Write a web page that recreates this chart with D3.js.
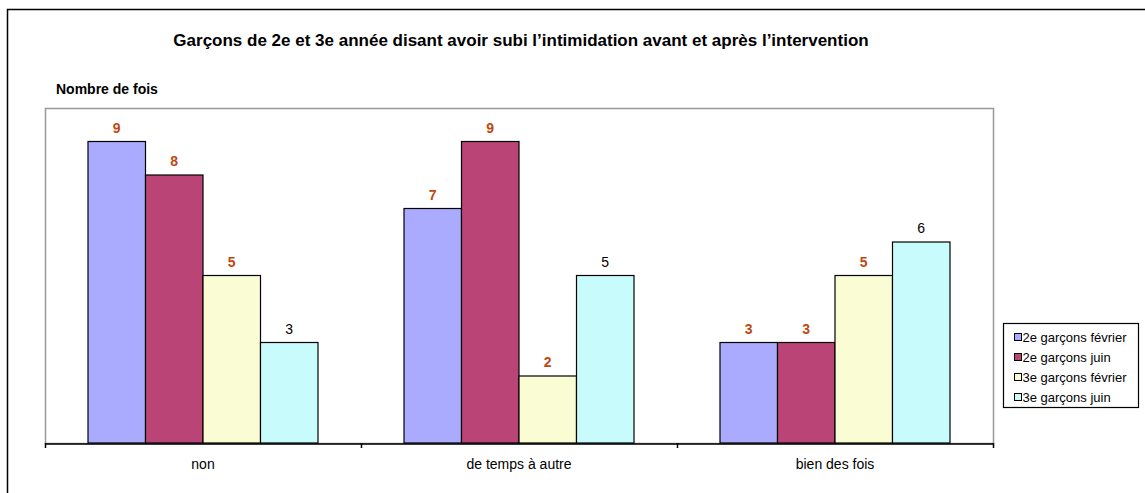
<!DOCTYPE html>
<html>
<head>
<meta charset="utf-8">
<script src="https://cdn.jsdelivr.net/npm/d3@7"></script>
<style>
  body { margin: 0; background: #fff; }
  svg text { font-family: "Liberation Sans", Arial, sans-serif; }
</style>
</head>
<body>
<svg id="chart" width="1145" height="493"></svg>
<script>
// data
const categories = ['non', 'de temps à autre', 'bien des fois'];
const seriesNames = ['2e garçons février', '2e garçons juin', '3e garçons février', '3e garçons juin'];
const feb2 = [9, 7, 3];
const jun2 = [8, 9, 3];
const feb3 = [5, 2, 5];
const jun3 = [3, 5, 6];
const yTicks = [0, 2, 4, 6, 8, 10];

const seriesValues = [feb2, jun2, feb3, jun3];
const colors = ['#aaaaff', '#bb4477', '#fafcd4', '#c8fcfc'];
const labelStyle = [true, true, true, false]; // bold orange vs plain black

const svg = d3.select('#chart');

// outer frame
svg.append('rect')
  .attr('x', 7.5).attr('y', 9.5)
  .attr('width', 1150).attr('height', 500)
  .attr('fill', 'none').attr('stroke', '#000').attr('stroke-width', 1.5);

const plot = { left: 45, top: 108, right: 993, bottom: 443 };

const x0 = d3.scaleBand().domain(categories).range([plot.left, plot.right]).paddingInner(0).paddingOuter(0);
const x1 = d3.scaleBand().domain(d3.range(seriesNames.length)).range([43, x0.bandwidth() - 43]);
const y = d3.scaleLinear().domain([0, d3.max(yTicks)]).range([plot.bottom, plot.top]);

// plot area border
svg.append('rect')
  .attr('x', plot.left + 0.5).attr('y', plot.top + 0.5)
  .attr('width', plot.right - plot.left).attr('height', plot.bottom - plot.top)
  .attr('fill', '#fff').attr('stroke', '#999').attr('stroke-width', 1.5);

// bars
const groups = svg.append('g').selectAll('g')
  .data(categories)
  .join('g')
  .attr('transform', d => `translate(${x0(d)},0)`);

groups.selectAll('rect')
  .data((c, ci) => seriesValues.map((vals, si) => ({ si, v: vals[ci] })))
  .join('rect')
  .attr('x', d => x1(d.si))
  .attr('y', d => y(d.v))
  .attr('width', x1.bandwidth())
  .attr('height', d => y(0) - y(d.v))
  .attr('fill', d => colors[d.si])
  .attr('stroke', '#000')
  .attr('stroke-width', 1.2);

groups.selectAll('text')
  .data((c, ci) => seriesValues.map((vals, si) => ({ si, v: vals[ci] })))
  .join('text')
  .attr('x', d => x1(d.si) + x1.bandwidth() / 2)
  .attr('y', d => y(d.v) - 9)
  .attr('text-anchor', 'middle')
  .style('font-size', '14px')
  .style('font-weight', d => labelStyle[d.si] ? 'bold' : 'normal')
  .style('fill', d => labelStyle[d.si] ? '#c04810' : '#000')
  .text(d => d.v);

// x axis
const xAxis = svg.append('g')
  .attr('transform', `translate(0,${plot.bottom + 0.5})`)
  .call(d3.axisBottom(x0).tickSize(0).tickSizeOuter(0).tickPadding(16));
xAxis.select('.domain').attr('stroke', '#000').attr('stroke-width', 1.5);
xAxis.selectAll('text').style('font-size', '14px').style('font-family', '"Liberation Sans", Arial, sans-serif').attr('fill', '#000');

// category separator ticks
svg.append('g').selectAll('line')
  .data(d3.range(categories.length + 1))
  .join('line')
  .attr('x1', i => i < categories.length ? x0(categories[i]) + 0.5 : plot.right + 0.5)
  .attr('x2', i => i < categories.length ? x0(categories[i]) + 0.5 : plot.right + 0.5)
  .attr('y1', plot.bottom)
  .attr('y2', plot.bottom + 5)
  .attr('stroke', '#000').attr('stroke-width', 1.5);

// title
svg.append('text')
  .attr('x', 521).attr('y', 46)
  .attr('text-anchor', 'middle')
  .style('font-size', '17px').style('font-weight', 'bold')
  .text('Garçons de 2e et 3e année disant avoir subi l’intimidation avant et après l’intervention');

svg.append('text')
  .attr('x', 56).attr('y', 94)
  .style('font-size', '14px').style('font-weight', 'bold')
  .text('Nombre de fois');

// legend
const legend = svg.append('g').attr('transform', 'translate(1003.5,323.5)');
legend.append('rect')
  .attr('width', 135).attr('height', 84)
  .attr('fill', '#fff').attr('stroke', '#000').attr('stroke-width', 1.2);
const items = legend.selectAll('g.item')
  .data(seriesNames)
  .join('g')
  .attr('class', 'item')
  .attr('transform', (d, i) => `translate(11,${14 + i * 20})`);
items.append('rect')
  .attr('x', 0).attr('y', -4)
  .attr('width', 7).attr('height', 7)
  .attr('fill', (d, i) => colors[i])
  .attr('stroke', '#000').attr('stroke-width', 1);
items.append('text')
  .attr('x', 8).attr('y', 4.5)
  .style('font-size', '13px')
  .text(d => d);
</script>
</body>
</html>
